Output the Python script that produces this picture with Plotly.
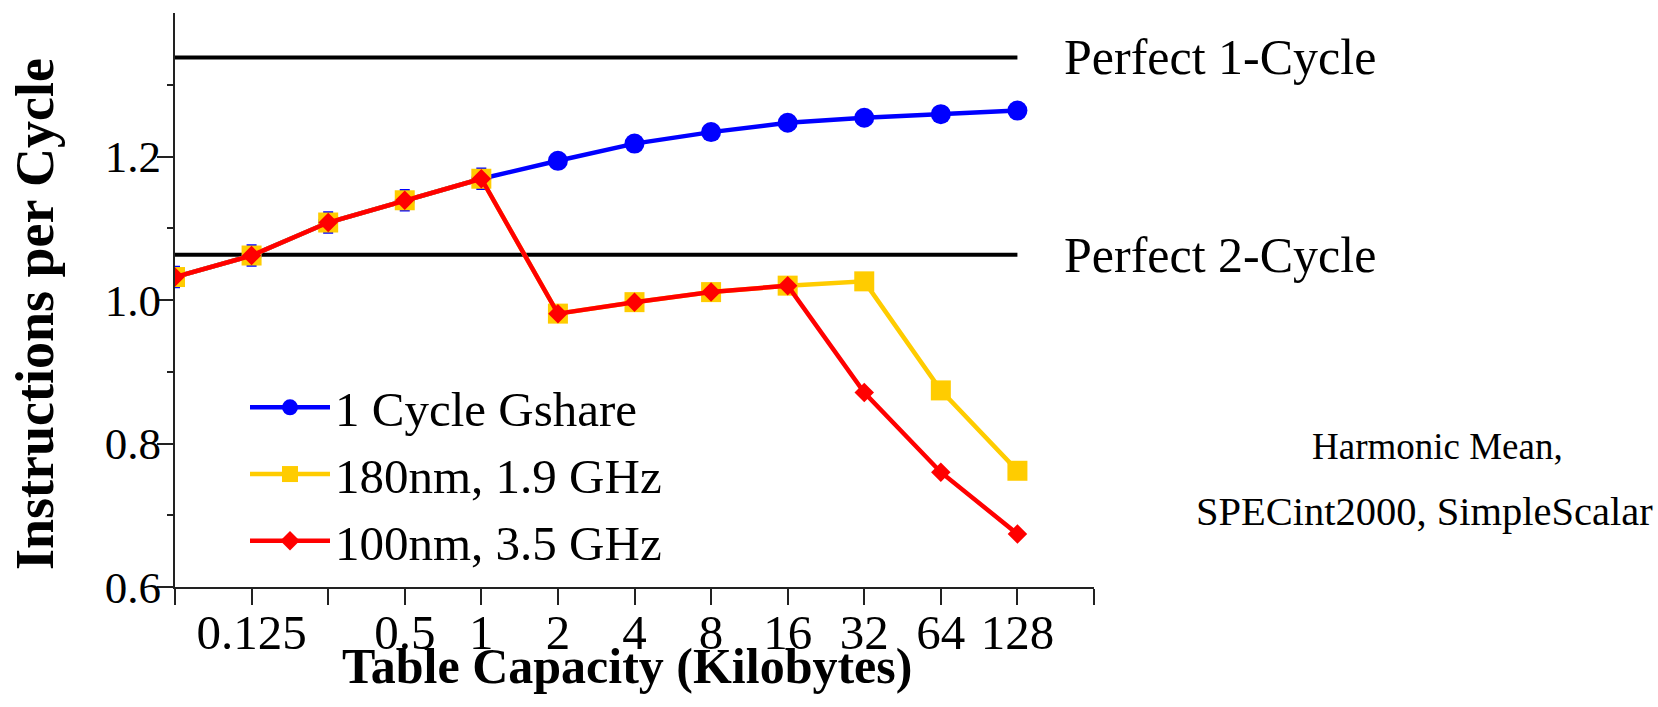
import math
import plotly.graph_objects as go

# ---- data ----
table_kb = [0.0625, 0.125, 0.25, 0.5, 1, 2, 4, 8, 16, 32, 64, 128]
gshare_1cycle = [1.032, 1.062, 1.108, 1.139, 1.169, 1.194, 1.218, 1.234, 1.247, 1.254, 1.259, 1.264]
gshare_err = [0.014, 0.014, 0.014, 0.014, 0.014, 0, 0, 0, 0, 0, 0, 0]
nm180_19ghz = [1.032, 1.062, 1.108, 1.139, 1.169, 0.981, 0.997, 1.011, 1.020, 1.026, 0.874, 0.762]
nm100_35ghz = [1.032, 1.062, 1.108, 1.139, 1.169, 0.981, 0.997, 1.011, 1.020, 0.871, 0.760, 0.674]
perfect_1cycle = 1.338
perfect_2cycle = 1.063

x_tickvals = [0.0625, 0.125, 0.25, 0.5, 1, 2, 4, 8, 16, 32, 64, 128, 256]
x_ticktext = ["", "0.125", "", "0.5", "1", "2", "4", "8", "16", "32", "64", "128", ""]
y_tickvals = [0.6, 0.8, 1.0, 1.2]
y_ticktext = ["0.6", "0.8", "1.0", "1.2"]
y_minor = [0.7, 0.9, 1.1, 1.3]

FONT = "Liberation Serif, Times New Roman, serif"
W, H = 1658, 707
L, R, T, B = 175, 564, 13, 120
PW, PH = W - L - R, H - T - B


def px(x):
    return (x - L) / PW


def py(y):
    return (H - B - y) / PH


fig = go.Figure()

# perfect reference lines
for val in (perfect_1cycle, perfect_2cycle):
    fig.add_trace(go.Scatter(
        x=[table_kb[0], table_kb[-1]], y=[val, val], mode="lines",
        line=dict(color="black", width=4), showlegend=False, hoverinfo="skip"))

fig.add_trace(go.Scatter(
    x=table_kb, y=gshare_1cycle, mode="lines+markers", name="1 Cycle Gshare",
    line=dict(color="#0000ff", width=4.5),
    marker=dict(symbol="circle", size=20, color="#0000ff"),
    error_y=dict(type="data", array=gshare_err, color="#0000ff", thickness=2.5, width=5)))
fig.add_trace(go.Scatter(
    x=table_kb, y=nm180_19ghz, mode="lines+markers", name="180nm, 1.9 GHz",
    line=dict(color="#ffcc00", width=4.5),
    marker=dict(symbol="square", size=20, color="#ffcc00")))
fig.add_trace(go.Scatter(
    x=table_kb, y=nm100_35ghz, mode="lines+markers", name="100nm, 3.5 GHz",
    line=dict(color="#ff0000", width=4.5),
    marker=dict(symbol="diamond", size=15, color="#ff0000")))

annos = [
    dict(text="Perfect 1-Cycle", x=px(1062), xref="paper", y=perfect_1cycle, yref="y",
         xanchor="left", yanchor="middle", font=dict(size=50)),
    dict(text="Perfect 2-Cycle", x=px(1062), xref="paper", y=perfect_2cycle, yref="y",
         xanchor="left", yanchor="middle", font=dict(size=50)),
    dict(text="Harmonic Mean,", x=px(1437), xref="paper", y=py(446), yref="paper",
         xanchor="center", yanchor="middle", font=dict(size=37)),
    dict(text="SPECint2000, SimpleScalar", x=px(1424), xref="paper", y=py(511), yref="paper",
         xanchor="center", yanchor="middle", font=dict(size=40.5)),
    dict(text="<b>Instructions per Cycle</b>", x=px(35), xref="paper", y=py(314), yref="paper",
         xanchor="center", yanchor="middle", textangle=-90, font=dict(size=54)),
    dict(text="<b>Table Capacity (Kilobytes)</b>", x=px(627), xref="paper", y=py(666), yref="paper",
         xanchor="center", yanchor="middle", font=dict(size=50)),
]
for a in annos:
    a.setdefault("showarrow", False)
    a["font"]["family"] = FONT
    a["font"]["color"] = "black"

fig.update_layout(
    width=W, height=H,
    margin=dict(l=L, r=R, t=T, b=B, pad=0),
    paper_bgcolor="white", plot_bgcolor="white",
    font=dict(family=FONT, color="black", size=50),
    annotations=annos,
    legend=dict(x=px(245), y=py(369), xanchor="left", yanchor="top",
                bgcolor="rgba(0,0,0,0)", font=dict(size=49, family=FONT),
                itemwidth=80, tracegroupgap=0),
    xaxis=dict(type="log", range=[math.log10(0.0625), math.log10(256)],
               tickvals=x_tickvals, ticktext=x_ticktext,
               showline=True, linecolor="#222", linewidth=2,
               ticks="outside", ticklen=16, tickwidth=1.5, tickcolor="#222",
               ticklabelstandoff=-15,
               showgrid=False, zeroline=False,
               tickfont=dict(size=49, family=FONT)),
    yaxis=dict(range=[0.6, 1.4], tickvals=y_tickvals, ticktext=y_ticktext,
               showline=True, linecolor="#222", linewidth=2,
               ticks="outside", ticklen=16, tickwidth=1.5, tickcolor="#222",
               ticklabelstandoff=-13,
               minor=dict(tickvals=y_minor, ticks="outside", ticklen=6, tickwidth=1.5, tickcolor="#222"),
               showgrid=False, zeroline=False,
               tickfont=dict(size=45, family=FONT)),
)

fig.write_html("out.html")
